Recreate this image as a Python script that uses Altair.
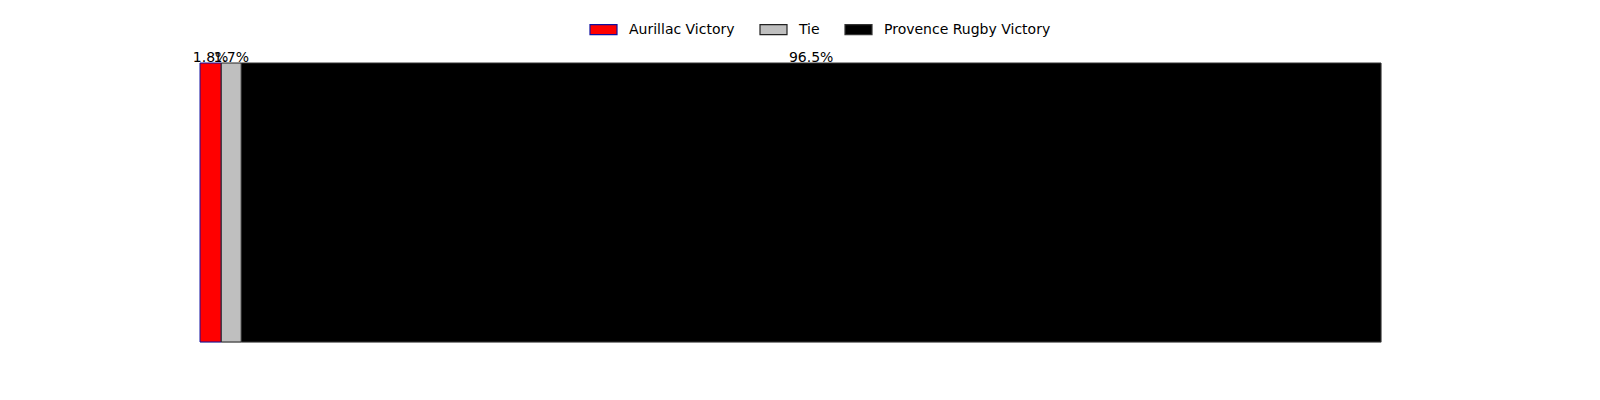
import altair as alt
import pandas as pd

categories = ["Aurillac Victory", "Tie", "Provence Rugby Victory"]
values = [1.8, 1.7, 96.5]
labels = ["1.8%", "1.7%", "96.5%"]
fills = ["#ff0000", "#bfbfbf", "#000000"]
strokes = ["#1010a0", "#222222", "#333333"]

df = pd.DataFrame({
    "outcome": categories,
    "pct": values,
    "label": labels,
    "order": list(range(len(categories))),
    "row": ["all"] * len(categories),
})

base = alt.Chart(df).transform_stack(
    stack="pct", groupby=["row"], as_=["start", "end"],
    sort=[alt.SortField("order", order="ascending")]
).transform_calculate(mid="(datum.start + datum.end) / 2")

xscale = alt.Scale(domain=[0, 100], nice=False, zero=True)
yscale = alt.Scale(paddingInner=0, paddingOuter=0)

bars = base.mark_bar(strokeWidth=1).encode(
    x=alt.X("start:Q", scale=xscale, axis=None),
    x2="end:Q",
    y=alt.Y("row:N", scale=yscale, axis=None),
    fill=alt.Fill("outcome:N", scale=alt.Scale(domain=categories, range=fills),
                  sort=categories,
                  legend=alt.Legend(
                      title=None, orient="none", direction="horizontal",
                      legendX=389, legendY=-48,
                      symbolType="M-1,-0.37H1V0.37H-1Z", symbolSize=729,
                      symbolStrokeWidth=1.2, symbolOpacity=1,
                      labelFont="DejaVu Sans", labelFontSize=14, labelColor="#000000",
                      labelOffset=11, labelLimit=0, columnPadding=22, padding=0,
                  )),
    stroke=alt.Stroke("outcome:N", scale=alt.Scale(domain=categories, range=strokes),
                      sort=categories, legend=None),
)

text = base.mark_text(baseline="bottom", align="center", dy=2,
                      font="DejaVu Sans", fontSize=14, color="#000000").encode(
    x=alt.X("mid:Q", scale=xscale, axis=None),
    y=alt.Y("row:N", scale=yscale, axis=None, bandPosition=0),
    text="label:N",
)

chart = alt.layer(bars, text).properties(
    width=1181, height=279,
    autosize=alt.AutoSizeParams(type="none"),
    padding={"left": 192, "top": 55, "right": 211, "bottom": 50},
).configure_view(stroke=None).configure(background="white")

chart.save("out.html", embed_options={"renderer": "svg", "actions": False})
